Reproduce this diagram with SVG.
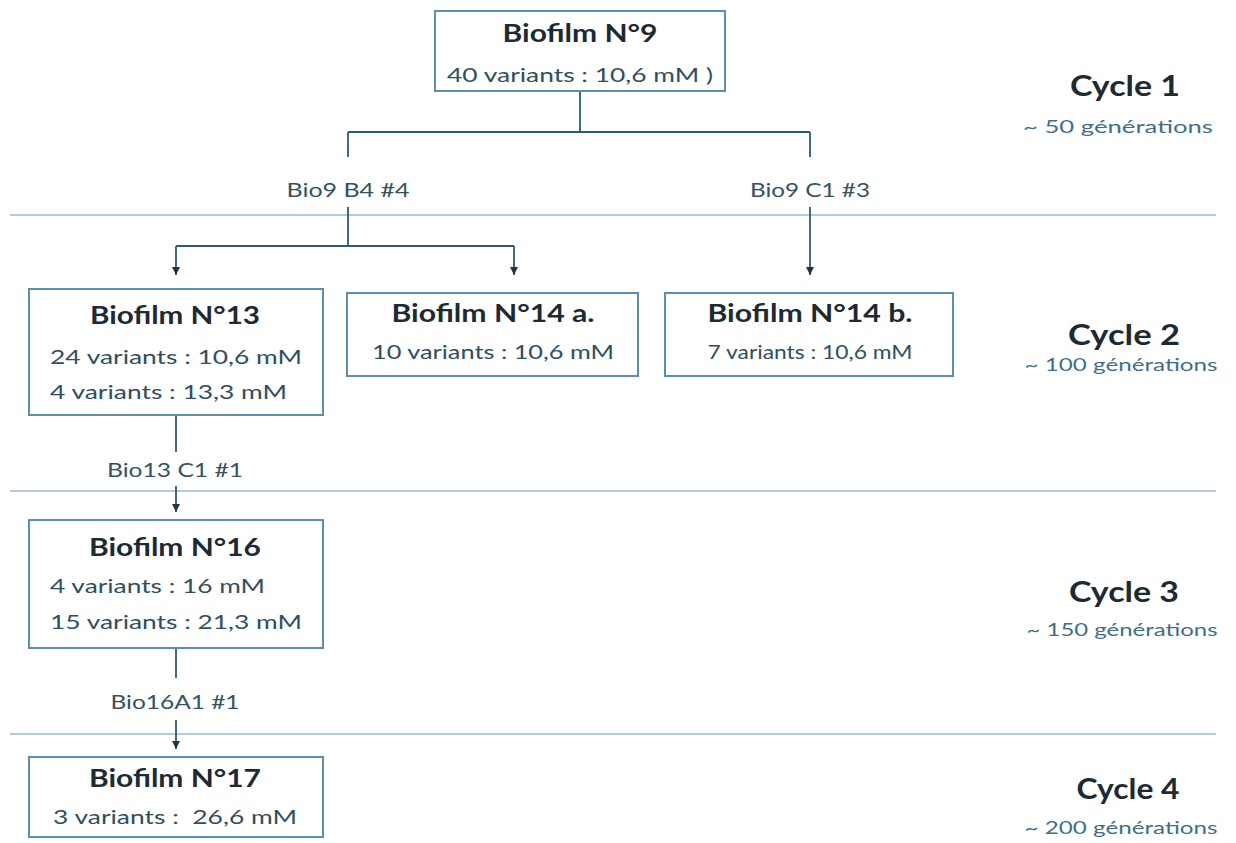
<svg xmlns="http://www.w3.org/2000/svg" width="1236" height="843" viewBox="0 0 1236 843">
<style>
.box{fill:#ffffff;stroke:#5a8fb0;stroke-width:2}
.t{font-family:Lato,"Liberation Sans",sans-serif;font-weight:bold;font-size:24px;fill:#1c2a33;text-anchor:middle}
.l{font-family:Lato,"Liberation Sans",sans-serif;font-size:20px;fill:#2f4f60}
.c{font-family:Lato,"Liberation Sans",sans-serif;font-weight:bold;font-size:28px;fill:#1c2a33;text-anchor:middle}
.g{font-family:Lato,"Liberation Sans",sans-serif;font-size:17px;fill:#3f6f88;text-anchor:middle}
.k{font-family:Lato,"Liberation Sans",sans-serif;font-size:19px;fill:#34525f;text-anchor:middle}
.sep{stroke:#b3cadb;stroke-width:2;fill:none}
.cn{stroke:#2f5b72;stroke-width:1.8;fill:none}
</style>
<defs>
<marker id="ah" viewBox="0 0 10 10" refX="10" refY="5" markerWidth="8" markerHeight="8" markerUnits="userSpaceOnUse" orient="auto">
<path d="M0,0 L10,5 L0,10 z" fill="#1f3744"/>
</marker>
</defs>
<rect width="1236" height="843" fill="#ffffff"/>
<g id="separators">
<line class="sep" x1="10" y1="215" x2="1216" y2="215"/>
<line class="sep" x1="10" y1="491" x2="1216" y2="491"/>
<line class="sep" x1="10" y1="734" x2="1216" y2="734"/>
</g>
<g id="connectors">
<path class="cn" d="M580,91 V132 M348,132 H810 M348,132 V157 M810,132 V157"/>
<path class="cn" d="M348,207 V246 M176,246 H514"/>
<path class="cn" d="M176,246 V275" marker-end="url(#ah)"/>
<path class="cn" d="M514,246 V275" marker-end="url(#ah)"/>
<path class="cn" d="M810,207 V275" marker-end="url(#ah)"/>
<path class="cn" d="M176,415 V452"/>
<path class="cn" d="M176,486 V512" marker-end="url(#ah)"/>
<path class="cn" d="M176,648 V678"/>
<path class="cn" d="M176,720 V749" marker-end="url(#ah)"/>
<text class="k" x="348" y="197" textLength="123" lengthAdjust="spacingAndGlyphs">Bio9 B4 #4</text>
<text class="k" x="810" y="197" textLength="120" lengthAdjust="spacingAndGlyphs">Bio9 C1 #3</text>
<text class="k" x="175" y="477" textLength="136" lengthAdjust="spacingAndGlyphs">Bio13 C1 #1</text>
<text class="k" x="175" y="709" textLength="129" lengthAdjust="spacingAndGlyphs">Bio16A1 #1</text>
</g>
<g id="biofilm9">
<rect class="box" x="435" y="11" width="290" height="80"/>
<text class="t" x="580" y="42" textLength="155" lengthAdjust="spacingAndGlyphs">Biofilm N°9</text>
<text class="l" x="580" y="82" text-anchor="middle" textLength="266" lengthAdjust="spacingAndGlyphs">40 variants : 10,6 mM )</text>
</g>
<g id="biofilm13">
<rect class="box" x="29" y="289" width="294" height="126"/>
<text class="t" x="175" y="324" textLength="170" lengthAdjust="spacingAndGlyphs">Biofilm N°13</text>
<text class="l" x="50" y="364" textLength="252" lengthAdjust="spacingAndGlyphs">24 variants : 10,6 mM</text>
<text class="l" x="50" y="399" textLength="237" lengthAdjust="spacingAndGlyphs">4 variants : 13,3 mM</text>
</g>
<g id="biofilm14a">
<rect class="box" x="347" y="293" width="291" height="83"/>
<text class="t" x="493" y="322" textLength="203" lengthAdjust="spacingAndGlyphs">Biofilm N°14 a.</text>
<text class="l" x="493" y="359" text-anchor="middle" textLength="242" lengthAdjust="spacingAndGlyphs">10 variants : 10,6 mM</text>
</g>
<g id="biofilm14b">
<rect class="box" x="665" y="293" width="288" height="83"/>
<text class="t" x="810" y="322" textLength="205" lengthAdjust="spacingAndGlyphs">Biofilm N°14 b.</text>
<text class="l" x="810" y="359" text-anchor="middle" textLength="205" lengthAdjust="spacingAndGlyphs">7 variants : 10,6 mM</text>
</g>
<g id="biofilm16">
<rect class="box" x="29" y="520" width="294" height="128"/>
<text class="t" x="175" y="556" textLength="172" lengthAdjust="spacingAndGlyphs">Biofilm N°16</text>
<text class="l" x="50" y="593" textLength="215" lengthAdjust="spacingAndGlyphs">4 variants : 16 mM</text>
<text class="l" x="50" y="629" textLength="252" lengthAdjust="spacingAndGlyphs">15 variants : 21,3 mM</text>
</g>
<g id="biofilm17">
<rect class="box" x="29" y="757" width="294" height="80"/>
<text class="t" x="175" y="787" textLength="172" lengthAdjust="spacingAndGlyphs">Biofilm N°17</text>
<text class="l" x="175" y="824" text-anchor="middle" textLength="244" lengthAdjust="spacingAndGlyphs" xml:space="preserve">3 variants :  26,6 mM</text>
</g>
<g id="cycles">
<text class="c" x="1125" y="96" textLength="110" lengthAdjust="spacingAndGlyphs">Cycle 1</text>
<text class="g" x="1118" y="133" textLength="190" lengthAdjust="spacingAndGlyphs">~ 50 générations</text>
<text class="c" x="1124" y="345" textLength="112" lengthAdjust="spacingAndGlyphs">Cycle 2</text>
<text class="g" x="1121" y="371" textLength="193" lengthAdjust="spacingAndGlyphs">~ 100 générations</text>
<text class="c" x="1124" y="602" textLength="110" lengthAdjust="spacingAndGlyphs">Cycle 3</text>
<text class="g" x="1122" y="636" textLength="191" lengthAdjust="spacingAndGlyphs">~ 150 générations</text>
<text class="c" x="1128" y="799" textLength="103" lengthAdjust="spacingAndGlyphs">Cycle 4</text>
<text class="g" x="1121" y="834" textLength="193" lengthAdjust="spacingAndGlyphs">~ 200 générations</text>
</g>
</svg>
